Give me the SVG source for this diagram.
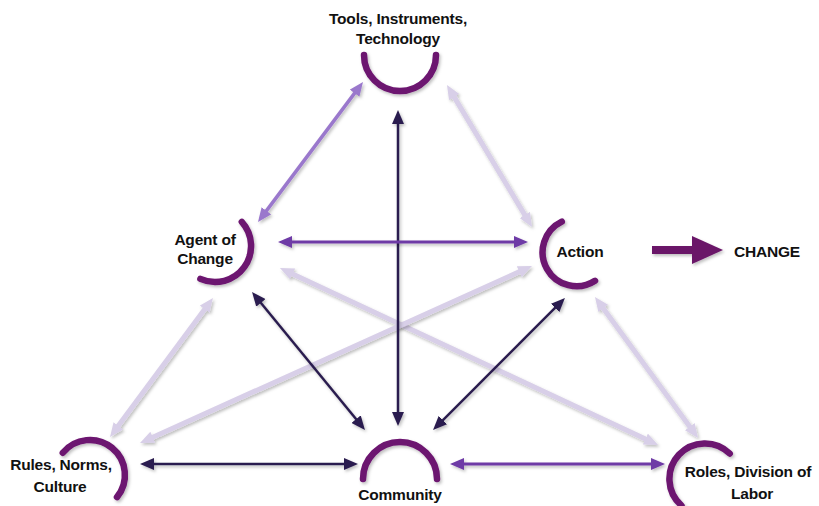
<svg xmlns="http://www.w3.org/2000/svg" width="819" height="506" viewBox="0 0 819 506">
<defs>
<filter id="sh" filterUnits="userSpaceOnUse" x="0" y="0" width="819" height="506">
<feDropShadow dx="1.5" dy="2" stdDeviation="1.5" flood-color="#000" flood-opacity="0.25"/>
</filter>
<marker id="mDark" viewBox="0 0 14 12" refX="6" refY="6" markerWidth="14" markerHeight="12" markerUnits="userSpaceOnUse" orient="auto-start-reverse"><path d="M0,0 L14,6 L0,12 z" fill="#2b1e4f"/></marker>
<marker id="mPurple" viewBox="0 0 14 12" refX="6" refY="6" markerWidth="14" markerHeight="12" markerUnits="userSpaceOnUse" orient="auto-start-reverse"><path d="M0,0 L14,6 L0,12 z" fill="#6e3aa6"/></marker>
<marker id="mMid" viewBox="0 0 14 12" refX="6" refY="6" markerWidth="14" markerHeight="12" markerUnits="userSpaceOnUse" orient="auto-start-reverse"><path d="M0,0 L14,6 L0,12 z" fill="#9a78cc"/></marker>
<marker id="mLight" viewBox="0 0 14 12" refX="6" refY="6" markerWidth="14" markerHeight="12" markerUnits="userSpaceOnUse" orient="auto-start-reverse"><path d="M0,0 L14,6 L0,12 z" fill="#d8cfe8"/></marker>
</defs>
<style>
.arc{fill:none;stroke:#6c1470;stroke-width:6.5;stroke-linecap:round;filter:url(#sh)}
.lbl{font-family:"Liberation Sans",Arial,sans-serif;font-weight:bold;font-size:15.5px;fill:#111111;text-anchor:middle;letter-spacing:-0.2px}
.c{fill:none;filter:url(#sh)}
.dark{stroke:#2b1e4f;stroke-width:2.5;marker-start:url(#mDark);marker-end:url(#mDark)}
.purple{stroke:#6e3aa6;stroke-width:3;marker-start:url(#mPurple);marker-end:url(#mPurple)}
.mid{stroke:#9a78cc;stroke-width:3.5;marker-start:url(#mMid);marker-end:url(#mMid)}
.light{stroke:#d8cfe8;stroke-width:5;marker-start:url(#mLight);marker-end:url(#mLight)}
</style>
<rect width="819" height="506" fill="#ffffff"/>
<g id="connectors">
<line class="c light" x1="287.2" y1="271.4" x2="650.8" y2="441.6"/>
<line class="c light" x1="524.7" y1="269.3" x2="147.3" y2="439.7"/>
<line class="c light" x1="451.1" y1="91.9" x2="527.9" y2="220.1"/>
<line class="c light" x1="208.2" y1="304.4" x2="114.8" y2="430.6"/>
<line class="c light" x1="599.7" y1="303.5" x2="693.3" y2="431.5"/>
<line class="c mid" x1="358.2" y1="88.4" x2="262.8" y2="215.6"/>
<line class="c dark" x1="398" y1="118" x2="398" y2="418"/>
<line class="c purple" x1="286" y1="242" x2="520" y2="242"/>
<line class="c dark" x1="257.1" y1="298.2" x2="359.9" y2="423.8"/>
<line class="c dark" x1="559.3" y1="303.7" x2="438.7" y2="424.3"/>
<line class="c dark" x1="148" y1="464" x2="350" y2="464"/>
<line class="c purple" x1="458" y1="464" x2="657" y2="464"/>
<g id="change-arrow" filter="url(#sh)">
<line x1="652" y1="250" x2="696" y2="250" stroke="#6a1568" stroke-width="8"/>
<polygon points="692,236 723,250 692,264" fill="#6a1568"/>
</g>
</g>
<g id="tools">
<path class="arc" d="M364,55 A36,36 0 0 0 436,55"/>
<text class="lbl" x="398" y="24">Tools, Instruments,</text>
<text class="lbl" x="398" y="44">Technology</text>
</g>
<g id="agent">
<path class="arc" d="M241.8,221.9 A36,36 0 0 1 200.4,278.9"/>
<text class="lbl" x="205" y="245">Agent of</text>
<text class="lbl" x="205" y="264">Change</text>
</g>
<g id="action">
<path class="arc" d="M561.8,221.6 A34,34 0 1 0 595,280.8"/>
<text class="lbl" x="580" y="257">Action</text>
</g>
<g id="change">
<text class="lbl" x="767" y="257">CHANGE</text>
</g>
<g id="rules">
<path class="arc" d="M62.8,452.8 A35,35 0 0 1 117,497.1"/>
<text class="lbl" x="61" y="470">Rules, Norms,</text>
<text class="lbl" x="60" y="492">Culture</text>
</g>
<g id="community">
<path class="arc" d="M363,479 A37,37 0 0 1 437,479"/>
<text class="lbl" x="400" y="500">Community</text>
</g>
<g id="roles">
<path class="arc" d="M729.7,453.5 A35.5,35.5 0 1 0 681.5,505.6"/>
<text class="lbl" x="748" y="477">Roles, Division of</text>
<text class="lbl" x="752" y="499">Labor</text>
</g>
</svg>
